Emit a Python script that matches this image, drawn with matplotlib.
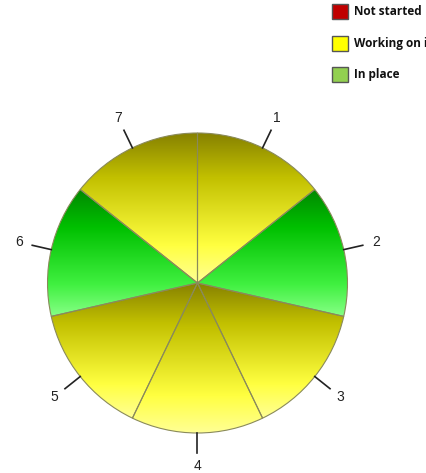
import numpy as np
import matplotlib
matplotlib.use("Agg")
import matplotlib.pyplot as plt
from matplotlib.colors import LinearSegmentedColormap
from matplotlib.patches import Rectangle

# ---- data ----
slice_labels = ["1", "2", "3", "4", "5", "6", "7"]
slice_values = [1, 1, 1, 1, 1, 1, 1]
slice_status = ["Working on it", "In place", "Working on it", "Working on it",
                "Working on it", "In place", "Working on it"]
legend_labels = ["Not started", "Working on it", "In place"]
legend_colors = ["#c00000", "#ffff00", "#92d050"]

W, H = 427, 473
fig = plt.figure(figsize=(W / 100, H / 100), dpi=100)
ax = fig.add_axes([0, 0, 1, 1])

cx, cy, R = 197.5, H - 283, 150

cmaps = {
    "Working on it": LinearSegmentedColormap.from_list(
        "y", [(0, "#858000"), (0.3, "#c2c000"), (0.75, "#ffff40"), (1.0, "#ffff95")]),
    "In place": LinearSegmentedColormap.from_list(
        "g", [(0, "#008800"), (0.3, "#00c000"), (0.75, "#40f040"), (1.0, "#85ff85")]),
}

wedges, _ = ax.pie(slice_values, startangle=90, counterclock=False,
                   center=(cx, cy), radius=R, frame=True,
                   wedgeprops=dict(edgecolor="#8a8a5a", linewidth=0.8))
ax.set_aspect("auto")

grad = np.linspace(0, 1, 256).reshape(-1, 1)
for w, st, lab in zip(wedges, slice_status, slice_labels):
    w.set_facecolor("none")
    w.set_zorder(3)
    path = w.get_path().transformed(w.get_patch_transform())
    ext = path.get_extents()
    im = ax.imshow(grad, cmap=cmaps[st], aspect="auto", origin="upper",
                   extent=(ext.x0, ext.x1, ext.y0, ext.y1), zorder=2,
                   interpolation="bilinear")
    im.set_clip_path(w)
    mid = np.deg2rad((w.theta1 + w.theta2) / 2)
    ax.plot([cx + R * np.cos(mid), cx + 1.13 * R * np.cos(mid)],
            [cy + R * np.sin(mid), cy + 1.13 * R * np.sin(mid)],
            color="#222222", lw=1.2, zorder=4)
    ax.text(cx + 1.22 * R * np.cos(mid), cy + 1.22 * R * np.sin(mid), lab,
            ha="center", va="center", fontsize=10, color="#222222",
            family="Liberation Sans", zorder=5)

ax.set_xlim(0, W)
ax.set_ylim(0, H)
ax.axis("off")

# legend (the reference's last entry text runs past the right edge)
for i, (lab, col) in enumerate(zip(legend_labels, legend_colors)):
    y = H - 12 - i * 31.5
    ax.add_patch(Rectangle((332, y - 7.5), 16, 15, facecolor=col,
                           edgecolor="#555555", lw=1, zorder=5))
    ax.text(354, y, lab, ha="left", va="center", fontsize=8.5,
            fontweight="bold", family="Open Sans", color="#111111", zorder=5)

fig.savefig("out.png", dpi=100)
